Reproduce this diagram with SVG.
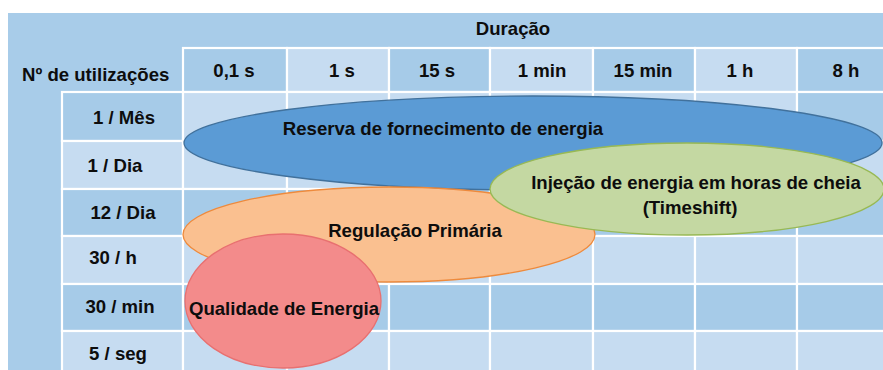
<svg xmlns="http://www.w3.org/2000/svg" width="883" height="370" viewBox="0 0 883 370">
<style>
  .t { font-family: "Liberation Sans", Arial, sans-serif; font-weight: bold; font-size: 18.6px; fill: #0d0d0d; }
  .c { text-anchor: middle; }
  .d { fill: #a6cbe8; stroke: #ffffff; stroke-width: 2.2; }
  .l { fill: #c6dcf1; stroke: #ffffff; stroke-width: 2.2; }
</style>
<rect id="panel" x="8" y="13" width="875" height="357" fill="#a8cce9"/>
<text id="duracao" class="t c" x="513" y="35">Duração</text>
<text id="nutil" class="t" x="22" y="81">Nº de utilizações</text>

<g id="header">
  <rect class="d" x="183" y="48" width="104" height="44"/>
  <rect class="l" x="287" y="48" width="102" height="44"/>
  <rect class="d" x="389" y="48" width="101" height="44"/>
  <rect class="l" x="490" y="48" width="103" height="44"/>
  <rect class="d" x="593" y="48" width="102" height="44"/>
  <rect class="l" x="695" y="48" width="102" height="44"/>
  <rect class="d" x="797" y="48" width="102" height="44"/>
  <text class="t c" x="234" y="77">0,1 s</text>
  <text class="t c" x="342" y="77">1 s</text>
  <text class="t c" x="437" y="77">15 s</text>
  <text class="t c" x="542" y="77">1 min</text>
  <text class="t c" x="643" y="77">15 min</text>
  <text class="t c" x="740" y="77">1 h</text>
  <text class="t c" x="846" y="77">8 h</text>
</g>

<g id="rows">
  <rect class="d" x="62" y="92" width="121" height="49"/>
  <rect class="l" x="62" y="141" width="121" height="48"/>
  <rect class="d" x="62" y="189" width="121" height="47"/>
  <rect class="l" x="62" y="236" width="121" height="48"/>
  <rect class="d" x="62" y="284" width="121" height="47"/>
  <rect class="l" x="62" y="331" width="121" height="48"/>
  <text class="t c" x="124" y="124">1 / Mês</text>
  <text class="t c" x="115" y="172">1 / Dia</text>
  <text class="t c" x="123" y="219">12 / Dia</text>
  <text class="t c" x="113" y="264">30 / h</text>
  <text class="t c" x="120" y="313">30 / min</text>
  <text class="t c" x="118" y="360">5 / seg</text>
</g>

<g id="body">
  <!-- row 1 -->
  <rect class="l" x="183" y="92" width="104" height="49"/>
  <rect class="l" x="287" y="92" width="102" height="49"/>
  <rect class="l" x="389" y="92" width="101" height="49"/>
  <rect class="l" x="490" y="92" width="103" height="49"/>
  <rect class="l" x="593" y="92" width="102" height="49"/>
  <rect class="l" x="695" y="92" width="102" height="49"/>
  <rect class="d" x="797" y="92" width="102" height="49"/>
  <!-- row 2 -->
  <rect class="l" x="183" y="141" width="104" height="48"/>
  <rect class="l" x="287" y="141" width="102" height="48"/>
  <rect class="l" x="389" y="141" width="101" height="48"/>
  <rect class="l" x="490" y="141" width="103" height="48"/>
  <rect class="l" x="593" y="141" width="102" height="48"/>
  <rect class="l" x="695" y="141" width="102" height="48"/>
  <rect class="l" x="797" y="141" width="102" height="48"/>
  <!-- row 3 -->
  <rect class="d" x="183" y="189" width="104" height="47"/>
  <rect class="d" x="287" y="189" width="102" height="47"/>
  <rect class="d" x="389" y="189" width="101" height="47"/>
  <rect class="d" x="490" y="189" width="103" height="47"/>
  <rect class="d" x="593" y="189" width="102" height="47"/>
  <rect class="d" x="695" y="189" width="102" height="47"/>
  <rect class="d" x="797" y="189" width="102" height="47"/>
  <!-- row 4 -->
  <rect class="l" x="183" y="236" width="104" height="48"/>
  <rect class="l" x="287" y="236" width="102" height="48"/>
  <rect class="l" x="389" y="236" width="101" height="48"/>
  <rect class="l" x="490" y="236" width="103" height="48"/>
  <rect class="l" x="593" y="236" width="102" height="48"/>
  <rect class="l" x="695" y="236" width="102" height="48"/>
  <rect class="l" x="797" y="236" width="102" height="48"/>
  <!-- row 5 -->
  <rect class="d" x="183" y="284" width="104" height="47"/>
  <rect class="d" x="287" y="284" width="102" height="47"/>
  <rect class="d" x="389" y="284" width="101" height="47"/>
  <rect class="d" x="490" y="284" width="103" height="47"/>
  <rect class="d" x="593" y="284" width="102" height="47"/>
  <rect class="d" x="695" y="284" width="102" height="47"/>
  <rect class="d" x="797" y="284" width="102" height="47"/>
  <!-- row 6 -->
  <rect class="l" x="183" y="331" width="104" height="48"/>
  <rect class="l" x="287" y="331" width="102" height="48"/>
  <rect class="l" x="389" y="331" width="101" height="48"/>
  <rect class="l" x="490" y="331" width="103" height="48"/>
  <rect class="l" x="593" y="331" width="102" height="48"/>
  <rect class="l" x="695" y="331" width="102" height="48"/>
  <rect class="l" x="797" y="331" width="102" height="48"/>
</g>

<g id="connectors"></g>

<g id="reserva">
  <ellipse cx="533" cy="143" rx="349" ry="47" fill="#5b9bd5" stroke="#41719c" stroke-width="1.3"/>
  <text class="t c" x="443" y="135">Reserva de fornecimento de energia</text>
</g>
<g id="regulacao">
  <ellipse cx="389" cy="234.5" rx="206" ry="47.5" fill="#fac090" stroke="#ee8a3c" stroke-width="1.3"/>
  <text class="t c" x="415" y="237">Regulação Primária</text>
</g>
<g id="injecao">
  <ellipse cx="687" cy="189" rx="197" ry="46" fill="#c4d8a2" stroke="#98b954" stroke-width="1.3"/>
  <text class="t c" x="696" y="189">Injeção de energia em horas de cheia</text>
  <text class="t c" x="690" y="214">(Timeshift)</text>
</g>
<g id="qualidade">
  <ellipse cx="283" cy="301" rx="98" ry="67" fill="#f38b8b" stroke="#e87070" stroke-width="1.3"/>
  <text class="t c" x="284" y="315">Qualidade de Energia</text>
</g>
</svg>
